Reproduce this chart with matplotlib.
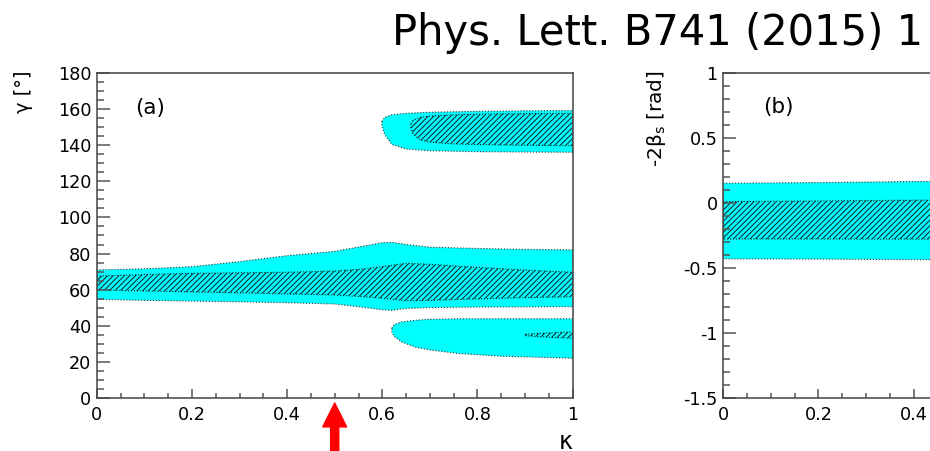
import matplotlib.pyplot as plt
from matplotlib.ticker import MultipleLocator, FormatStrFormatter
import numpy as np

plt.rcParams['font.family'] = ['DejaVu Sans']
plt.rcParams['axes.unicode_minus'] = False
plt.rcParams['hatch.linewidth'] = 0.7
plt.rcParams['mathtext.default'] = 'regular'

CYAN = '#00ffff'

# panel (a): gamma vs kappa
main_k = [0, 0.1, 0.2, 0.3, 0.4, 0.5, 0.55, 0.6, 0.62, 0.65, 0.7, 0.8, 0.9, 1.0]
main_hi = [70.9, 71.5, 72.7, 75.5, 78.8, 81.2, 83.6, 86.0, 86.2, 85.0, 83.5, 82.8, 82.3, 82.0]
main_lo = [54.6, 54.0, 53.6, 53.2, 52.7, 52.0, 50.5, 48.8, 48.5, 49.5, 50.0, 50.3, 50.4, 50.5]

main68_k = [0, 0.1, 0.2, 0.3, 0.4, 0.5, 0.55, 0.6, 0.65, 0.7, 0.8, 0.9, 1.0]
main68_hi = [67.5, 68.3, 69.0, 69.3, 69.6, 70.3, 71.2, 72.7, 74.6, 74.0, 72.3, 70.8, 69.6]
main68_lo = [59.8, 59.2, 58.7, 58.2, 57.6, 57.0, 56.2, 55.2, 53.8, 54.0, 54.8, 55.5, 56.0]

up_k = [0.599, 0.605, 0.62, 0.65, 0.70, 0.80, 0.90, 1.0]
up_hi = [153.2, 155.5, 157.0, 157.8, 158.4, 158.9, 159.2, 159.3]
up_lo = [151.3, 146.0, 140.5, 138.0, 137.0, 136.5, 136.3, 136.2]

up68_k = [0.66, 0.665, 0.68, 0.70, 0.75, 0.85, 1.0]
up68_hi = [152.0, 154.0, 155.5, 156.3, 157.0, 157.5, 157.8]
up68_lo = [150.0, 146.0, 143.0, 141.8, 140.8, 140.2, 139.8]

low_k = [0.62, 0.625, 0.64, 0.67, 0.70, 0.76, 0.85, 1.0]
low_hi = [38.5, 40.5, 42.0, 43.0, 43.5, 43.8, 43.8, 43.8]
low_lo = [36.5, 34.0, 31.0, 28.0, 26.5, 24.5, 23.0, 21.9]

low68_k = [0.9, 0.95, 1.0]
low68_hi = [35.2, 36.0, 36.5]
low68_lo = [34.4, 33.5, 33.0]

# panel (b): -2 beta_s vs kappa
bs_k = [0, 0.2, 0.4, 0.6, 0.8, 1.0]
bs_hi = [0.153, 0.158, 0.166, 0.17, 0.17, 0.17]
bs_lo = [-0.43, -0.432, -0.436, -0.44, -0.44, -0.44]
bs68_hi = [0.011, 0.016, 0.022, 0.025, 0.025, 0.025]
bs68_lo = [-0.277, -0.277, -0.278, -0.278, -0.278, -0.278]


def draw_region(ax, k, lo, hi, hatched=False):
    k = np.asarray(k)
    xs = np.concatenate([k, k[::-1]])
    ys = np.concatenate([hi, lo[::-1]])
    if hatched:
        ax.fill(xs, ys, facecolor='none', edgecolor='#1a1a1a', hatch='//////',
                lw=0.8, ls=':')
    else:
        ax.fill(xs, ys, facecolor=CYAN, edgecolor='#333333', lw=0.8, ls=':')


def style_axes(ax, ymajor, yminor):
    ax.set_xlim(0, 1)
    ax.xaxis.set_major_locator(MultipleLocator(0.2))
    ax.xaxis.set_minor_locator(MultipleLocator(0.05))
    ax.yaxis.set_major_locator(MultipleLocator(ymajor))
    ax.yaxis.set_minor_locator(MultipleLocator(yminor))
    ax.xaxis.set_major_formatter(FormatStrFormatter('%g'))
    ax.yaxis.set_major_formatter(FormatStrFormatter('%g'))
    for s in ax.spines.values():
        s.set_color('#444444')
        s.set_linewidth(1.1)
    ax.tick_params(which='both', direction='in', top=False, right=False,
                   color='#555555', width=1.1, labelsize=12.7)
    ax.tick_params(axis='x', which='major', length=6.5, pad=6)
    ax.tick_params(axis='x', which='minor', length=3.3)
    ax.tick_params(axis='y', which='major', length=9.4, pad=4)
    ax.tick_params(axis='y', which='minor', length=5)


fig = plt.figure(figsize=(9.3, 4.51), dpi=100)
ax1 = fig.add_axes([0.104, 0.1182, 0.5118, 0.7193])
ax2 = fig.add_axes([0.7777, 0.1182, 0.5118, 0.7193])

draw_region(ax1, main_k, main_lo, main_hi)
draw_region(ax1, up_k, up_lo, up_hi)
draw_region(ax1, low_k, low_lo, low_hi)
draw_region(ax1, main68_k, main68_lo, main68_hi, hatched=True)
draw_region(ax1, up68_k, up68_lo, up68_hi, hatched=True)
draw_region(ax1, low68_k, low68_lo, low68_hi, hatched=True)
style_axes(ax1, 20, 5)
ax1.set_ylim(0, 180)
ax1.text(0.08, 161, '(a)', fontsize=15.5, va='center')
ax1.set_ylabel('γ [°]', fontsize=14, loc='top')
ax1.yaxis.set_label_coords(-0.134, 1.01)
ax1.set_xlabel('κ', fontsize=17, loc='right')
ax1.xaxis.set_label_coords(1.0, -0.1)

draw_region(ax2, bs_k, bs_lo, bs_hi)
draw_region(ax2, bs_k, bs68_lo, bs68_hi, hatched=True)
style_axes(ax2, 0.5, 0.1)
ax2.set_ylim(-1.5, 1)
ax2.text(0.083, 0.744, '(b)', fontsize=15.5, va='center')
ax2.set_ylabel('-2β$_{s}$ [rad]', fontsize=14.5, loc='top')
ax2.yaxis.set_label_coords(-0.116, 1.01)

# red arrow marking kappa = 0.5
ax1.annotate('', xy=(0.5, 48), xycoords=('data', 'figure pixels'),
             xytext=(0.5, -6), textcoords=('data', 'figure pixels'),
             arrowprops=dict(arrowstyle='simple,head_length=0.86,head_width=0.86,tail_width=0.29',
                             mutation_scale=20, color='red', shrinkA=0, shrinkB=0),
             annotation_clip=False)

fig.text(392 / 930, 1 - 45 / 451, 'Phys. Lett. B741 (2015) 1', fontsize=30,
         va='baseline', ha='left')

fig.savefig('out.png', dpi=100)
